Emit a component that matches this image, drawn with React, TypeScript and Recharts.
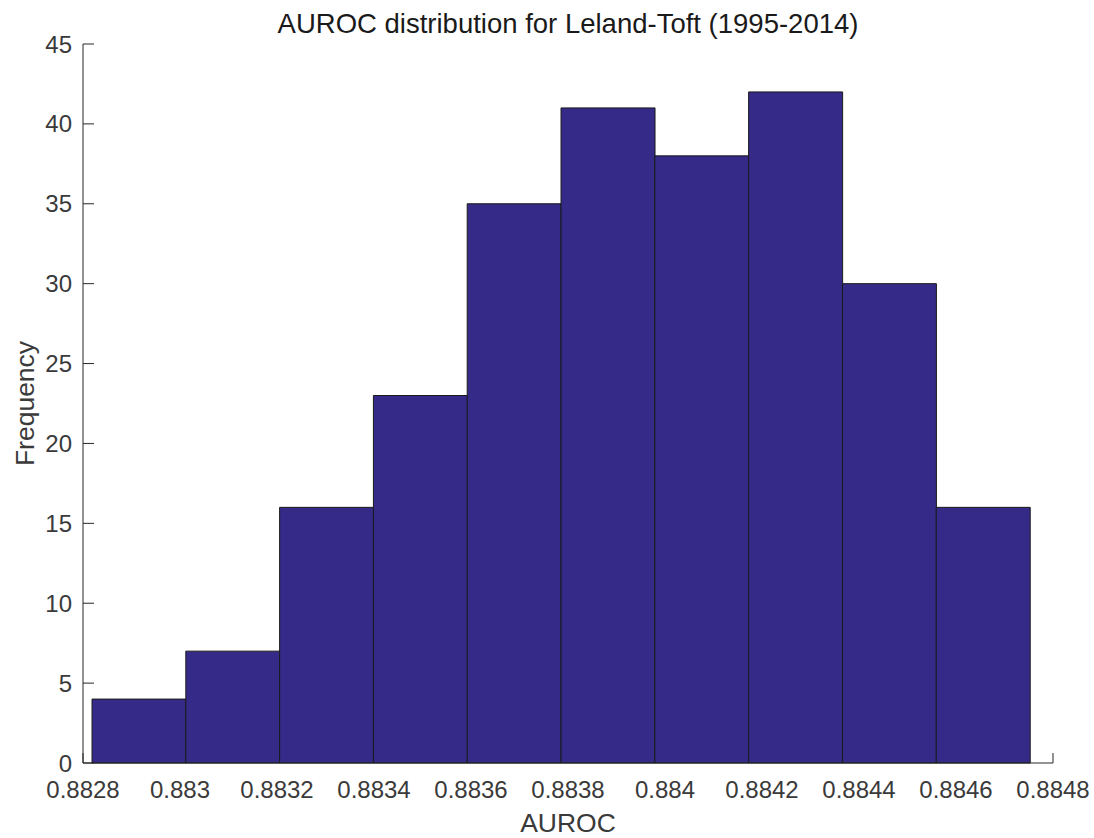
import React from 'react'
import { BarChart, Bar, XAxis, YAxis } from 'recharts'

// histogram bins (bin centres and counts)
const binCenters = [
  0.8829153, 0.8831087, 0.8833021, 0.8834955, 0.8836889,
  0.8838823, 0.8840757, 0.8842691, 0.8844625, 0.8846559,
]
const counts = [4, 7, 16, 23, 35, 41, 38, 42, 30, 16]
const xTicks = [
  0.8828, 0.883, 0.8832, 0.8834, 0.8836, 0.8838,
  0.884, 0.8842, 0.8844, 0.8846, 0.8848,
]
const yTicks = [0, 5, 10, 15, 20, 25, 30, 35, 40, 45]

const FONT = '"Liberation Sans", Arial, Helvetica, sans-serif'
const AXIS = '#262626'
const TEXT = '#3a3a3a'
const FILL = '#352a87'

const data = binCenters.map((c, i) => ({ auroc: c, Frequency: counts[i] }))

const fmt = (v: number) => String(Number(v.toFixed(4)))

// MATLAB-style ticks point inward; labels sit outside
function YTick(props: any) {
  const { x, y, payload } = props
  const axisX = x + 11
  return (
    <g>
      <line x1={axisX} x2={axisX + 11} y1={y} y2={y} stroke={AXIS} strokeWidth={1} />
      <text x={x} y={y + 8.5} textAnchor="end" fill={TEXT} fontSize={24} fontFamily={FONT}>
        {payload.value}
      </text>
    </g>
  )
}

function XTick(props: any) {
  const { x, y, payload, index } = props
  const axisY = y - 35
  // only the end ticks show; the rest are hidden behind the bars
  const showLine = index === 0 || index === xTicks.length - 1
  return (
    <g>
      {showLine && (
        <line x1={x} x2={x} y1={axisY} y2={axisY - 10} stroke={AXIS} strokeWidth={1} />
      )}
      <text x={x} y={y} textAnchor="middle" fill={TEXT} fontSize={24} fontFamily={FONT}>
        {fmt(payload.value)}
      </text>
    </g>
  )
}

export default function App() {
  return (
    <div style={{ position: 'absolute', left: 0, top: 0, width: 1094, height: 838, background: '#fff' }}>
      <div
        style={{
          position: 'absolute',
          top: 8,
          left: 83,
          width: 970,
          textAlign: 'center',
          fontFamily: FONT,
          fontSize: 27.5,
          color: '#1a1a1a',
        }}
      >
        AUROC distribution for Leland-Toft (1995-2014)
      </div>
      <BarChart
        width={1094}
        height={838}
        data={data}
        margin={{ top: 44, right: 41, bottom: 35, left: 23 }}
        barCategoryGap={0}
        barGap={0}
      >
        <XAxis
          dataKey="auroc"
          type="number"
          domain={[0.8828, 0.8848]}
          ticks={xTicks}
          interval={0}
          height={40}
          tickSize={0}
          tickMargin={35}
          tick={<XTick />}
          axisLine={{ stroke: AXIS, strokeWidth: 1 }}
          tickLine={false}
          allowDataOverflow
          label={{
            value: 'AUROC',
            position: 'bottom',
            offset: 10,
            fill: TEXT,
            fontSize: 26.5,
            fontFamily: FONT,
          }}
        />
        <YAxis
          type="number"
          domain={[0, 45]}
          ticks={yTicks}
          interval={0}
          width={60}
          tickSize={0}
          tickMargin={11}
          tick={<YTick />}
          axisLine={{ stroke: AXIS, strokeWidth: 1 }}
          tickLine={false}
          label={{
            value: 'Frequency',
            angle: -90,
            position: 'insideLeft',
            offset: 2,
            fill: TEXT,
            fontSize: 26.5,
            fontFamily: FONT,
            style: { textAnchor: 'middle' },
          }}
        />
        <Bar
          dataKey="Frequency"
          fill={FILL}
          stroke="#1a1a1a"
          strokeWidth={1}
          isAnimationActive={false}
        />
      </BarChart>
    </div>
  )
}
